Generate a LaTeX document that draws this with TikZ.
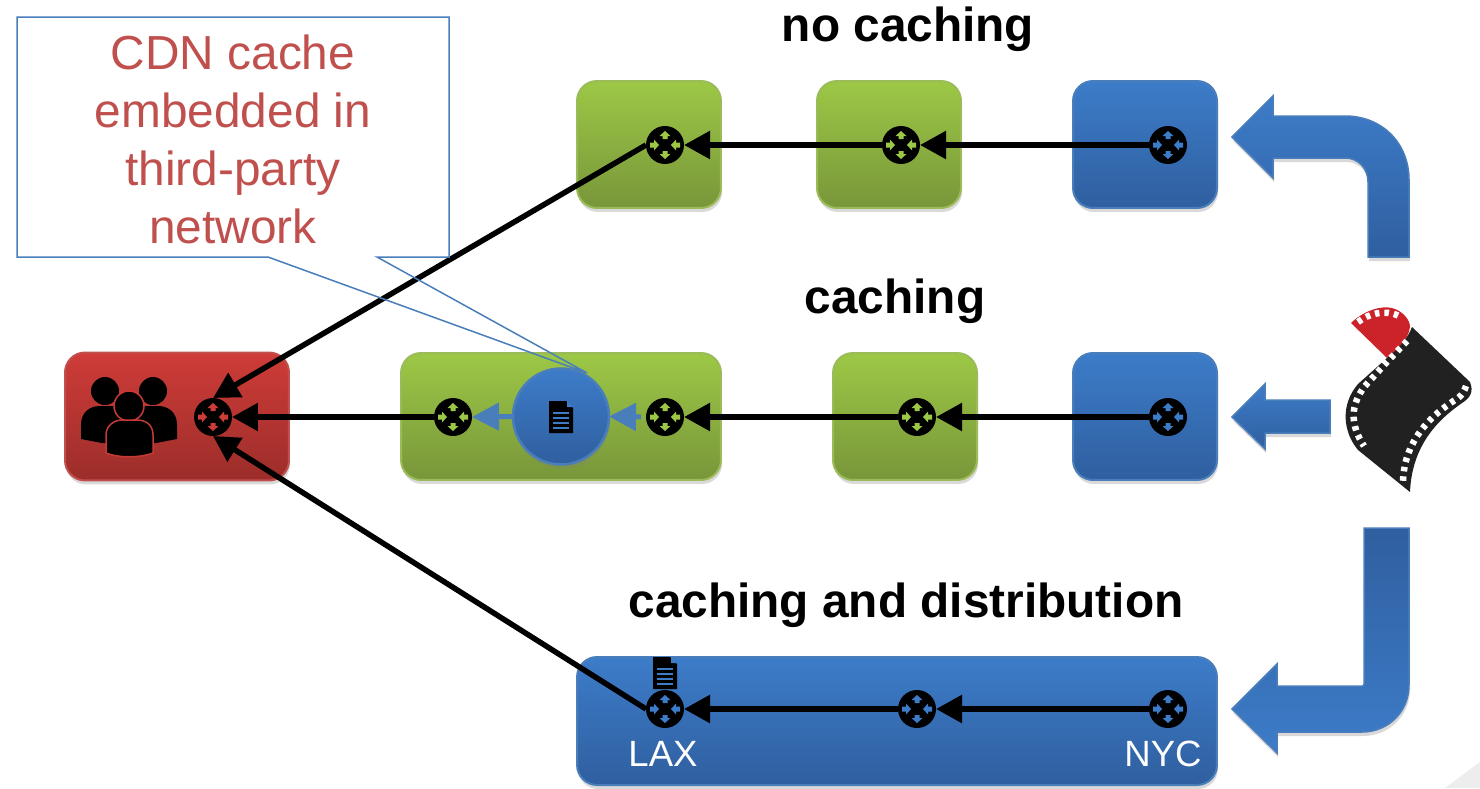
\documentclass[tikz,border=0pt]{standalone}
\usepackage{fontspec}
\setmainfont{Liberation Sans}
\usetikzlibrary{arrows.meta,shadows}

\definecolor{bluetop}{HTML}{3D7CC9}
\definecolor{bluebot}{HTML}{2F5F9F}
\definecolor{blueline}{HTML}{4A7EBB}
\definecolor{greentop}{HTML}{9DC846}
\definecolor{greenbot}{HTML}{78963A}
\definecolor{greenline}{HTML}{9BBB59}
\definecolor{redtop}{HTML}{CE3C38}
\definecolor{redbot}{HTML}{9C2D2A}
\definecolor{calloutred}{HTML}{C0504D}
\definecolor{filmred}{HTML}{CC2229}

\tikzset{
	softshadow/.style={drop shadow={opacity=0.3,shadow xshift=0.02cm,shadow yshift=-0.08cm}},
	netbox/.style={rectangle,rounded corners=0.4cm,line width=0.04cm,softshadow,inner sep=0pt,outer sep=0pt},
	greenbox/.style={netbox,draw=greenline,top color=greentop,bottom color=greenbot},
	bluebox/.style={netbox,draw=blueline,top color=bluetop,bottom color=bluebot},
	redbox/.style={netbox,draw=calloutred,top color=redtop,bottom color=redbot},
	router/.style={circle,fill=black,minimum size=0.76cm,inner sep=0pt,outer sep=0pt,
		path picture={
			\begin{scope}[shift={(path picture bounding box.center)}]
				\fill[#1] (0,-14) -- (-5.5,-9) -- (-2.5,-9) -- (-2.5,-6) -- (2.5,-6) -- (2.5,-9) -- (5.5,-9) -- cycle;
				\fill[#1] (0,14) -- (-5.5,9) -- (-2.5,9) -- (-2.5,6) -- (2.5,6) -- (2.5,9) -- (5.5,9) -- cycle;
				\fill[#1] (-6,0) -- (-11,-5.5) -- (-11,-2.5) -- (-15,-2.5) -- (-15,2.5) -- (-11,2.5) -- (-11,5.5) -- cycle;
				\fill[#1] (6,0) -- (11,-5.5) -- (11,-2.5) -- (15,-2.5) -- (15,2.5) -- (11,2.5) -- (11,5.5) -- cycle;
			\end{scope}
		}},
	link/.style={-{Triangle[length=0.52cm,width=0.54cm]},line width=0.11cm,black},
	cachelink/.style={-{Triangle[length=0.54cm,width=0.54cm]},line width=0.1cm,blueline},
	bigarrow/.style={draw=blueline,line width=0.03cm,softshadow},
	title/.style={font=\bfseries\fontsize{27.2}{32}\selectfont,inner sep=0pt},
	citylabel/.style={font=\fontsize{20.8}{25}\selectfont,text=white,inner sep=0pt},
	filmholes/.style={white,line width=0.13cm,dash pattern=on 0.09cm off 0.1cm},
	pics/docicon/.style={code={
		\fill[black] (-12,-16) -- (5,-16) -- (12,-9) -- (12,16) -- (-12,16) -- cycle;
		\fill[#1] (6,-16) -- (12,-10) -- (6,-10) -- cycle;
		\foreach \y in {-4,1,6,11} \fill[#1] (-8,\y-1) rectangle (8,\y+1);
	}}
}

\begin{document}
\begin{tikzpicture}[x=0.02cm,y=-0.02cm]
	\useasboundingbox (0,0) rectangle (1480,788);
	\fill[black!7] (1445,788) -- (1480,762) -- (1480,788) -- cycle;

	% boxes
	\node[greenbox,minimum width=2.88cm,minimum height=2.54cm] (boxA) at (649,144.5) {};
	\node[greenbox,minimum width=2.88cm,minimum height=2.54cm] (boxB) at (889,144.5) {};
	\node[bluebox,minimum width=2.88cm,minimum height=2.54cm] (boxC) at (1145,144.5) {};
	\node[redbox,minimum width=4.48cm,minimum height=2.56cm] (boxUser) at (177,416.5) {};
	\node[greenbox,minimum width=6.4cm,minimum height=2.54cm] (boxD) at (561,416.5) {};
	\node[greenbox,minimum width=2.88cm,minimum height=2.54cm] (boxE) at (905,416.5) {};
	\node[bluebox,minimum width=2.88cm,minimum height=2.54cm] (boxF) at (1145,416.5) {};
	\node[bluebox,minimum width=12.8cm,minimum height=2.56cm] (boxG) at (897,721) {};

	\node[title] (titleA) at (908,29) {no caching};
	\node[title] (titleB) at (895,301) {caching};
	\node[title] (titleC) at (906,605) {caching and distribution};

	% routers
	\node[router=greentop] (rA) at (665,145) {};
	\node[router=greentop] (rB) at (901,145) {};
	\node[router=bluetop] (rC) at (1168,145) {};
	\node[router=redtop] (rUser) at (213,417) {};
	\node[router=greentop] (rD) at (453,417) {};
	\node[router=greentop] (rE) at (665,417) {};
	\node[router=greentop] (rF) at (917,417) {};
	\node[router=bluetop] (rG) at (1168,417) {};
	\node[router=bluetop] (rLax) at (665,709) {};
	\node[router=bluetop] (rH) at (917,709) {};
	\node[router=bluetop] (rNyc) at (1168,709) {};

	\node[citylabel] (lax) at (663,754) {LAX};
	\node[citylabel] (nyc) at (1163,754) {NYC};

	% cache server
	\node[circle,minimum size=1.92cm,inner sep=0pt,outer sep=0pt,draw=blueline,line width=0.05cm,top color=bluetop,bottom color=bluebot,softshadow] (cache) at (561,416.5) {};
	\pic at (561,417) {docicon=bluetop};
	\pic at (665,673) {docicon=bluetop};

	\draw[link] (rC.west) -- (rB.east);
	\draw[link] (rB.west) -- (rA.east);
	\draw[link] (rA.west) -- (rUser.north);
	\draw[link] (rG.west) -- (rF.east);
	\draw[link] (rF.west) -- (rE.east);
	\draw[link] (rD.west) -- (rUser.east);
	\draw[link] (rNyc.west) -- (rH.east);
	\draw[link] (rH.west) -- (rLax.east);
	\draw[link] (rLax.west) -- (rUser.south);
	\draw[cachelink] ([xshift=-0.1cm]rE.west) -- (cache.east);
	\draw[cachelink] (cache.west) -- (rD.east);

	% callout
	\node[font=\fontsize{27.2}{33}\selectfont,text=calloutred,align=center,inner sep=0pt] (note) at (233,139) {CDN cache\\embedded in\\third-party\\network};
	\draw[blueline,line width=0.03cm,line join=miter] (17,17) -- (449,17) -- (449,257) -- (377,257) -- (587,373) -- (268,257) -- (17,257) -- cycle;

	% feed arrows
	\draw[bigarrow,top color=bluetop,bottom color=bluebot] (1232,137) -- (1273,96) -- (1273,116) -- (1345,116) .. controls (1382,116) and (1409,143) .. (1409,180) -- (1409,257) -- (1368,257) -- (1368,182) .. controls (1368,168) and (1358,158) .. (1345,158) -- (1273,158) -- (1273,178) -- cycle;
	\draw[bigarrow,top color=bluetop,bottom color=bluebot] (1232,417) -- (1265,384) -- (1265,400) -- (1330,400) -- (1330,433) -- (1265,433) -- (1265,449) -- cycle;
	\draw[bigarrow,top color=bluebot,bottom color=bluetop] (1232,709) -- (1277,664) -- (1277,686) -- (1362,686) .. controls (1364,686) and (1364,686) .. (1364,684) -- (1364,528) -- (1409,528) -- (1409,685) .. controls (1409,712) and (1388,732) .. (1362,732) -- (1277,732) -- (1277,753) -- cycle;

	% film reel
	\fill[filmred] (1351,323) .. controls (1362,312) and (1380,305) .. (1392,308) .. controls (1403,311) and (1410,320) .. (1410,327) .. controls (1408,340) and (1398,350) .. (1387,358) -- cycle;
	\draw[filmholes] (1358,322) .. controls (1368,314) and (1385,309) .. (1399,316);
	\fill[black!87] (1412,327) -- (1470,382) .. controls (1474,392) and (1470,398) .. (1462,403) .. controls (1445,415) and (1412,440) .. (1410,492) -- (1358,450) .. controls (1343,432) and (1340,405) .. (1358,384) -- (1387,358) .. controls (1397,350) and (1407,340) .. (1412,327) -- cycle;
	\draw[filmholes] (1407,341) -- (1385,364) -- (1365,386) .. controls (1350,405) and (1350,425) .. (1364,446);
	\draw[filmholes] (1466,386) .. controls (1464,392) and (1462,395) .. (1458,398) .. controls (1436,412) and (1404,437) .. (1403,482);

	% user group
	\fill[black] (105,391) circle [radius=14];
	\fill[black] (153,391) circle [radius=14];
	\fill[black] (81,439) -- (81,425) .. controls (81,412) and (90,406) .. (100,406) -- (158,406) .. controls (168,406) and (177,412) .. (177,425) -- (177,439) -- (156,443) -- (102,443) -- cycle;
	\draw[fill=black,draw=redtop!85!redbot,line width=0.03cm] (129,406) circle [radius=15];
	\draw[fill=black,draw=redtop!85!redbot,line width=0.03cm] (106,453) -- (106,435) .. controls (106,425) and (115,420) .. (122,420) -- (137,420) .. controls (146,420) and (153,425) .. (153,435) -- (153,453) .. controls (140,458) and (118,458) .. (106,453) -- cycle;
\end{tikzpicture}
\end{document}
